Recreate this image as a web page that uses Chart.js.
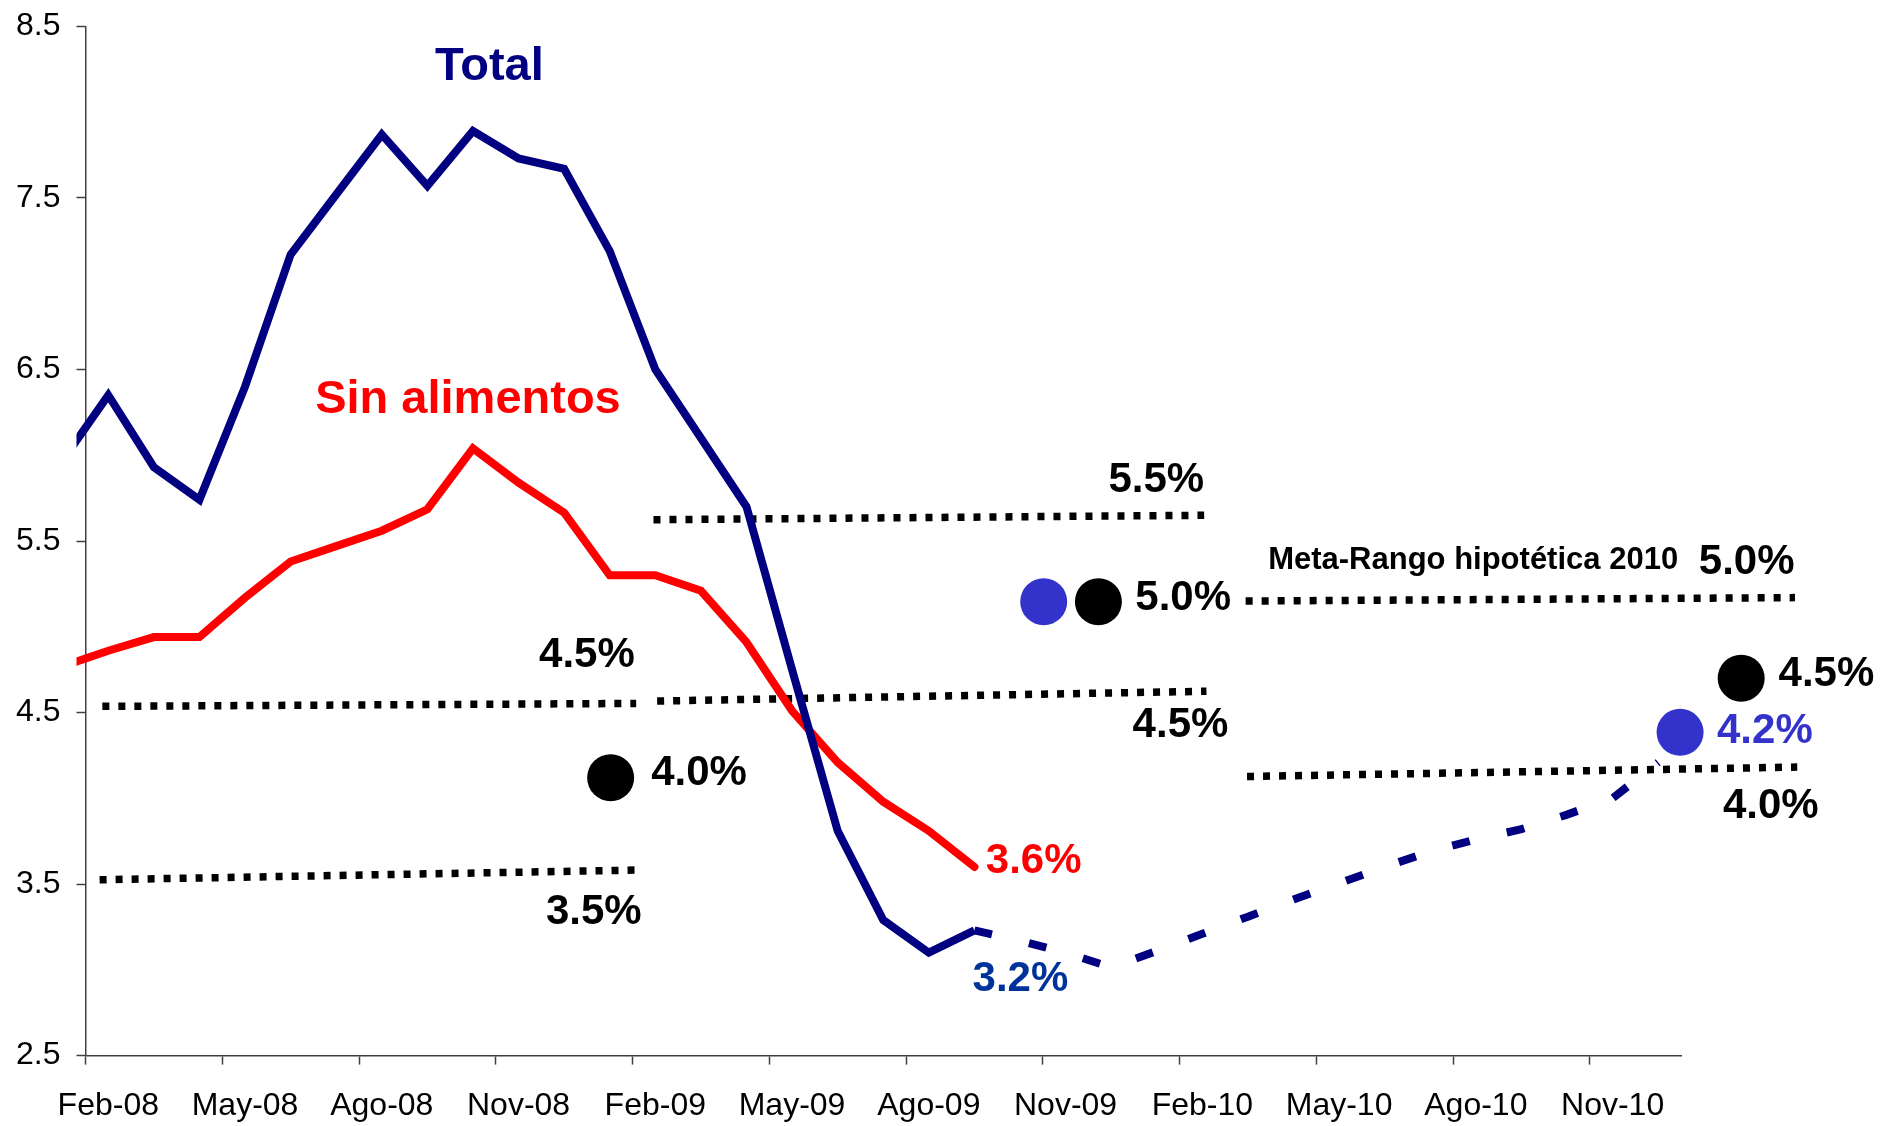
<!DOCTYPE html>
<html>
<head>
<meta charset="utf-8">
<script src="https://cdn.jsdelivr.net/npm/chart.js@4.4.1/dist/chart.umd.min.js"></script>
<style>
  html, body { margin: 0; padding: 0; background: #fff; }
</style>
</head>
<body>
<canvas id="chart" width="1890" height="1126"></canvas>
<script>
// months from Ene-08 to Dic-10; Ene-08 sits just left of the axis (only its segment shows)
const months = [
  "Ene-08", "Feb-08", "Mar-08", "Abr-08", "May-08", "Jun-08", "Jul-08", "Ago-08", "Sep-08", "Oct-08", "Nov-08", "Dic-08",
  "Ene-09", "Feb-09", "Mar-09", "Abr-09", "May-09", "Jun-09", "Jul-09", "Ago-09", "Sep-09", "Oct-09", "Nov-09", "Dic-09",
  "Ene-10", "Feb-10", "Mar-10", "Abr-10", "May-10", "Jun-10", "Jul-10", "Ago-10", "Sep-10", "Oct-10", "Nov-10", "Dic-10",
]
const xTickLabels = ["Feb-08", "May-08", "Ago-08", "Nov-08", "Feb-09", "May-09", "Ago-09", "Nov-09", "Feb-10", "May-10", "Ago-10", "Nov-10"]
const yTicks = [2.5, 3.5, 4.5, 5.5, 6.5, 7.5, 8.5]

const total = [
  5.97, 6.35, 5.93, 5.74, 6.40, 7.17, 7.52, 7.87, 7.57, 7.89, 7.73, 7.67,
  7.19, 6.50, 6.10, 5.70, 4.75, 3.81, 3.29, 3.10, 3.23, null, null, null,
  null, null, null, null, null, null, null, null, null, null, null, null,
]
const totalForecast = [
  null, null, null, null, null, null, null, null, null, null, null, null,
  null, null, null, null, null, null, null, null, 3.23, 3.17, 3.10, 3.015,
  3.11, 3.21, 3.31, 3.41, 3.505, 3.60, 3.69, 3.76, 3.82, 3.905, 4.00, 4.21,
]
const sinAlimentos = [
  4.77, 4.86, 4.94, 4.94, 5.17, 5.38, 5.47, 5.56, 5.685, 6.04, 5.84, 5.665,
  5.30, 5.30, 5.21, 4.91, 4.51, 4.21, 3.98, 3.81, 3.60, null, null, null,
  null, null, null, null, null, null, null, null, null, null, null, null,
]

// target range bands (dotted), x in months from Feb-08
const bandStartX = [-0.19, -0.13, 12.04, 11.96, 24.95, 24.98]
const bandEndX = [11.68, 11.58, 24.09, 24.04, 37.0, 37.05]
const bandStartY = [3.525, 4.536, 4.567, 5.624, 5.15, 4.127]
const bandEndY = [3.582, 4.553, 4.624, 5.65, 5.17, 4.182]

// targets (black) and forecasts (blue)
const metaX = [11.02, 21.72, 35.82]
const metaY = [4.12, 5.146, 4.70]
const pronX = [20.52, 34.48]
const pronY = [5.146, 4.385]

const noteText = ["Total", "Sin alimentos", "5.5%", "4.5%", "4.0%", "3.5%", "4.5%", "5.0%", "3.6%", "3.2%",
  "Meta-Rango hipotética 2010", "5.0%", "4.5%", "4.2%", "4.0%"]
const noteX = [8.36, 7.89, 22.99, 10.50, 12.96, 10.65, 23.52, 23.58, 20.30, 20.01, 29.94, 35.94, 37.69, 36.34, 36.47]
const noteY = [8.263, 6.321, 5.855, 4.831, 4.146, 3.336, 4.426, 5.167, 3.630, 2.947, 5.388, 5.376, 4.723, 4.391, 3.954]

const FONT = "'Liberation Sans', Arial, sans-serif"
const NAVY = "#000080"
const RED = "#FF0000"
const BLUE = "#3333CC"
const AXIS = "#404040"

const noteColor = [NAVY, RED, "#000", "#000", "#000", "#000", "#000", "#000", RED, "#003399", "#000", "#000", "#000", BLUE, "#000"]
const noteSize = [47, 47, 42, 42, 42, 42, 42, 42, 42, 42, 31, 42, 42, 42, 42]
const DOT_R = 23.5

const pts = (vals) => vals.map((v, i) => ({ x: i - 1, y: v })).filter((p) => p.y !== null)

// tick marks sit on month boundaries, labels on month centres
const xTickValues = []
xTickLabels.forEach((_, k) => {
  xTickValues.push(3 * k - 0.5, 3 * k)
})

// big round markers; some sit right of the plot area, so they are drawn here
const markersPlugin = {
  id: "markers",
  afterDatasetsDraw(chart) {
    const { ctx, scales } = chart
    const dot = (xs, ys, color) => {
      ctx.fillStyle = color
      xs.forEach((x, i) => {
        ctx.beginPath()
        ctx.arc(scales.x.getPixelForValue(x), scales.y.getPixelForValue(ys[i]), DOT_R, 0, Math.PI * 2)
        ctx.fill()
      })
    }
    ctx.save()
    dot(pronX, pronY, BLUE)
    dot(metaX, metaY, "#000")
    ctx.restore()
  },
}

const notesPlugin = {
  id: "notes",
  afterDatasetsDraw(chart) {
    const { ctx, scales } = chart
    ctx.save()
    ctx.textAlign = "center"
    ctx.textBaseline = "middle"
    noteText.forEach((t, i) => {
      ctx.font = `bold ${noteSize[i]}px ${FONT}`
      ctx.fillStyle = noteColor[i]
      ctx.fillText(t, scales.x.getPixelForValue(noteX[i]), scales.y.getPixelForValue(noteY[i]))
    })
    ctx.restore()
  },
}

const bandSets = bandStartX.map((x0, i) => ({
  label: "rango " + i,
  data: [{ x: x0, y: bandStartY[i] }, { x: bandEndX[i], y: bandEndY[i] }],
  borderColor: "#000",
  borderWidth: 7.5,
  borderDash: [7, 9],
  borderCapStyle: "butt",
  pointRadius: 0,
  clip: false,
}))

Chart.defaults.font.family = FONT

new Chart(document.getElementById("chart"), {
  type: "line",
  data: {
    datasets: [
      {
        label: "Total",
        data: pts(total),
        borderColor: NAVY,
        borderWidth: 8,
        pointRadius: 0,
        clip: { left: 9, top: 8, right: 8, bottom: 8 },
      },
      {
        label: "Total proyección",
        data: pts(totalForecast),
        borderColor: NAVY,
        borderWidth: 8,
        borderDash: [18, 38],
        borderCapStyle: "butt",
        pointRadius: 0,
        clip: false,
      },
      {
        label: "Sin alimentos",
        data: pts(sinAlimentos),
        borderColor: RED,
        borderWidth: 8,
        borderCapStyle: "round",
        pointRadius: 0,
        clip: { left: 9, top: 8, right: 8, bottom: 8 },
      },
      ...bandSets,
    ],
  },
  options: {
    responsive: false,
    animation: false,
    devicePixelRatio: 1,
    layout: { padding: { left: 0, right: 209, top: 0, bottom: -21 } },
    plugins: { legend: { display: false }, tooltip: { enabled: false } },
    scales: {
      x: {
        type: "linear",
        min: -0.5,
        max: 34.5,
        afterBuildTicks: (axis) => {
          axis.ticks = xTickValues.map((v) => ({ value: v }))
        },
        ticks: {
          autoSkip: false,
          maxRotation: 0,
          minRotation: 0,
          padding: 22,
          color: "#000",
          font: { size: 32 },
          callback: (v) => (Number.isInteger(v) ? xTickLabels[v / 3] : ""),
        },
        grid: {
          drawOnChartArea: false,
          tickLength: 9,
          tickWidth: 1.5,
          tickColor: (c) => (c.tick && Number.isInteger(c.tick.value) ? "rgba(0,0,0,0)" : AXIS),
        },
        border: { color: AXIS, width: 1.5 },
      },
      y: {
        min: 2.5,
        max: 8.5,
        afterBuildTicks: (axis) => {
          axis.ticks = yTicks.map((v) => ({ value: v }))
        },
        ticks: {
          padding: 16,
          color: "#000",
          font: { size: 32, lineHeight: 0.65 },
          callback: (v) => v.toFixed(1),
        },
        grid: { drawOnChartArea: false, tickLength: 9, tickWidth: 1.5, tickColor: AXIS },
        border: { color: AXIS, width: 1.5 },
      },
    },
  },
  plugins: [markersPlugin, notesPlugin],
})
</script>
</body>
</html>
